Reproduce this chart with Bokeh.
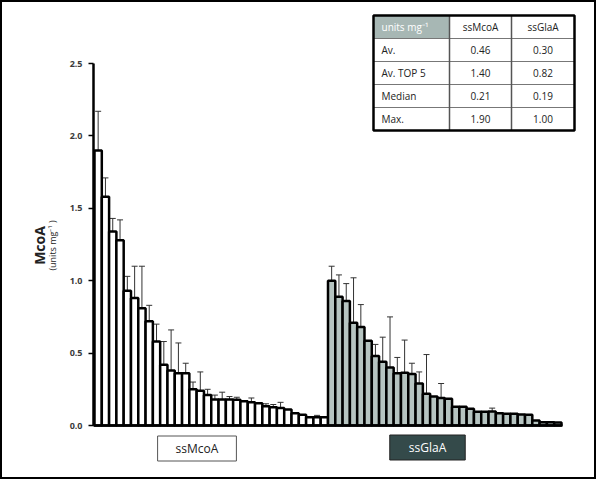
import math
from bokeh.plotting import figure
from bokeh.models import (Range1d, FixedTicker, NumeralTickFormatter, ColumnDataSource,
                          Whisker, TeeHead, Label)
from bokeh.core.properties import value
from bokeh.embed import file_html
from bokeh.resources import INLINE

# ---------------- data ----------------
mcoa_values = [1.90, 1.58, 1.34, 1.28, 0.93, 0.88, 0.81, 0.72, 0.58, 0.42, 0.38, 0.36, 0.36, 0.25, 0.24, 0.21,
               0.18, 0.18, 0.18, 0.177, 0.168, 0.161, 0.154, 0.133, 0.126, 0.12, 0.11, 0.085, 0.074, 0.057, 0.057, 0.057]
mcoa_upper = [2.17, 1.71, 1.43, 1.42, 1.03, 1.10, 1.10, 0.83, 0.70, 0.58, 0.66, 0.57, 0.43, 0.30, 0.37, 0.25,
              0.21, 0.23, 0.20, 0.195, None, 0.19, None, 0.15, 0.145, 0.16, None, None, None, None, 0.07, None]
glaa_values = [1.00, 0.89, 0.86, 0.71, 0.68, 0.585, 0.48, 0.44, 0.40, 0.36, 0.365, 0.355, 0.29, 0.22, 0.20, 0.19,
               0.185, 0.13, 0.13, 0.115, 0.095, 0.095, 0.097, 0.085, 0.081, 0.081, 0.076, 0.074, 0.035, 0.023, 0.023, 0.02]
glaa_upper = [1.10, 1.04, 0.98, 1.02, 0.835, None, 0.56, 0.61, 0.75, 0.47, 0.59, 0.43, 0.37, 0.49, None, 0.29,
              None, None, None, None, None, None, 0.12, None, None, None, None, None, None, None, None, None]
group_labels = ["ssMcoA", "ssGlaA"]
y_ticks = [0.0, 0.5, 1.0, 1.5, 2.0, 2.5]
table_header = ["units mg\u207b\u00b9", "ssMcoA", "ssGlaA"]
row_labels = ["Av.", "Av. TOP 5", "Median", "Max."]
mcoa_stats = ["0.46", "1.40", "0.21", "1.90"]
glaa_stats = ["0.30", "0.82", "0.19", "1.00"]

# ---------------- layout (canvas pixels) ----------------
W, H = 596, 479
N = len(mcoa_values) + len(glaa_values)
PX = 467.0 / N          # px per bar
PY = 362.0 / 2.5        # px per unit
X0 = 92                 # canvas x of data x=0
Y0 = 423                # canvas y of data y=0

def cx(px):
    return (px - X0) / PX

def cy(py):
    return (Y0 - py) / PY

p = figure(width=W, height=H, output_backend="svg", toolbar_location=None, title=None,
           x_range=Range1d(cx(0), cx(W)), y_range=Range1d(cy(H), cy(0)),
           min_border_left=0, min_border_top=0, min_border_right=0, min_border_bottom=0)
p.styles = {"border": "2px solid black"}
p.background_fill_color = "white"
p.border_fill_color = "white"
p.outline_line_color = None
p.xgrid.visible = False
p.ygrid.visible = False

# ---------------- bars ----------------
xs = [i + 0.5 for i in range(N)]
vals = mcoa_values + glaa_values
fills = ["white"] * len(mcoa_values) + ["#b6c4c1"] * len(glaa_values)
bars = ColumnDataSource(dict(x=xs, top=vals, fill=fills))
p.vbar(x="x", top="top", bottom=0, width=1.0, source=bars, fill_color="fill",
       line_color="black", line_width=2.5)

ups = mcoa_upper + glaa_upper
ex = [x for x, u in zip(xs, ups) if u is not None]
elo = [v for v, u in zip(vals, ups) if u is not None]
eup = [u for u in ups if u is not None]
err = ColumnDataSource(dict(base=ex, lower=elo, upper=eup))
p.add_layout(Whisker(base="base", lower="lower", upper="upper", source=err,
                     line_color="#333333", line_width=1, lower_head=None,
                     upper_head=TeeHead(size=6, line_color="#333333", line_width=1)))

# ---------------- axes ----------------
yax = p.yaxis[0]
yax.fixed_location = cx(91)
yax.ticker = FixedTicker(ticks=y_ticks)
yax.formatter = NumeralTickFormatter(format="0.0")
yax.bounds = (0, 2.5)
yax.axis_line_width = 2.5
yax.axis_line_color = "black"
yax.major_tick_out = 5
yax.major_tick_in = 0
yax.major_tick_line_width = 1.5
yax.minor_tick_line_color = None
yax.major_label_standoff = 6
yax.major_label_text_font = "Open Sans"
yax.major_label_text_font_style = "bold"
yax.major_label_text_font_size = "9px"
yax.major_label_text_color = "#3a3a3a"

xax = p.xaxis[0]
xax.fixed_location = 0
xax.ticker = FixedTicker(ticks=[])
xax.major_label_text_font_size = "0px"
xax.major_tick_line_color = None
xax.minor_tick_line_color = None
xax.axis_line_width = 2.5
xax.axis_line_color = "black"
xax.bounds = (cx(91), N + 0.15)

# y title
p.add_layout(Label(x=cx(37), y=cy(243), text="McoA", angle=math.pi / 2,
                   text_align="center", text_baseline="middle", text_font="Open Sans",
                   text_font_style="bold", text_font_size="14px", text_color="#222222"))
p.add_layout(Label(x=cx(50), y=cy(243), text="(units mg\u207b\u00b9 )", angle=math.pi / 2,
                   text_align="center", text_baseline="middle", text_font="Open Sans",
                   text_font_size="9px", text_color="#222222"))

# group labels
p.add_layout(Label(x=cx(194.5), y=cy(446), text=group_labels[0], text_align="center",
                   text_baseline="middle", text_font="Open Sans", text_font_size="12px",
                   text_color="#222222", background_fill_color="white",
                   border_line_color="#555555", border_line_width=1,
                   padding=dict(left=18, right=18, top=4, bottom=4)))
p.add_layout(Label(x=cx(425), y=cy(445), text=group_labels[1], text_align="center",
                   text_baseline="middle", text_font="Open Sans", text_font_size="12px",
                   text_color="white", background_fill_color="#344a4a",
                   border_line_color="#222222", border_line_width=1,
                   padding=dict(left=19, right=19, top=4, bottom=4)))

# ---------------- table ----------------
cols = [371, 447, 509, 572]
rows = [13, 36, 59, 82, 105, 128]
p.quad(left=[cx(cols[0])], right=[cx(cols[3])], top=[cy(rows[0])], bottom=[cy(rows[5])],
       fill_color="white", line_color=None)
p.quad(left=[cx(cols[0])], right=[cx(cols[1])], top=[cy(rows[0])], bottom=[cy(rows[1])],
       fill_color="#a7b7b4", line_color=None)
hx0 = [cx(cols[0])] * 4
hx1 = [cx(cols[3])] * 4
hy = [cy(r) for r in rows[1:5]]
p.segment(x0=hx0, x1=hx1, y0=hy, y1=hy, line_color="#777777", line_width=1.2)
vx = [cx(c) for c in cols[1:3]]
p.segment(x0=vx, x1=vx, y0=[cy(rows[0])] * 2, y1=[cy(rows[5])] * 2, line_color="#555555", line_width=1.5)
p.quad(left=[cx(cols[0])], right=[cx(cols[3])], top=[cy(rows[0])], bottom=[cy(rows[5])],
       fill_color=None, line_color="black", line_width=2.5)

row_mid = [cy((rows[i] + rows[i + 1]) / 2) for i in range(5)]
c1 = (cols[1] + cols[2]) / 2
c2 = (cols[2] + cols[3]) / 2
fs = "10px"
p.text(x=[cx(cols[0] + 8)], y=[row_mid[0]], text=[table_header[0]], text_font=value("Open Sans"),
       text_font_size=fs, text_color="white", text_align="left", text_baseline="middle")
p.text(x=[cx(c1), cx(c2)], y=[row_mid[0]] * 2, text=table_header[1:], text_font=value("Open Sans"),
       text_font_size=fs, text_color="#222222", text_align="center", text_baseline="middle")
p.text(x=[cx(cols[0] + 8)] * 4, y=row_mid[1:], text=row_labels, text_font=value("Open Sans"),
       text_font_size=fs, text_color="#222222", text_align="left", text_baseline="middle")
p.text(x=[cx(c1)] * 4, y=row_mid[1:], text=mcoa_stats, text_font=value("Open Sans"),
       text_font_size=fs, text_color="#222222", text_align="center", text_baseline="middle")
p.text(x=[cx(c2)] * 4, y=row_mid[1:], text=glaa_stats, text_font=value("Open Sans"),
       text_font_size=fs, text_color="#222222", text_align="center", text_baseline="middle")

open("out.html", "w").write(file_html(p, INLINE))
